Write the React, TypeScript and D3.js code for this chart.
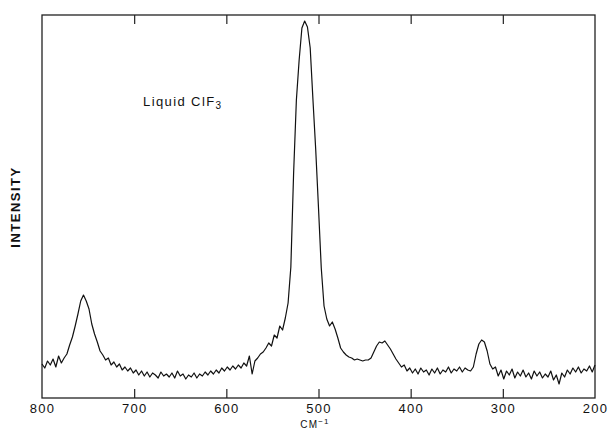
import React, { useRef, useEffect } from "react";
import * as d3 from "d3";

// wavenumber grid, 800 down to 200 cm-1 every 3 cm-1
const wavenumbers = d3.range(800, 199, -3);

// intensity (arbitrary units), one per wavenumber
const intensity = [
  34, 30, 37, 33, 39, 31, 42, 35, 40, 44,
  53, 61, 72, 84, 97, 103, 97, 89, 74, 64,
  56, 47, 43, 38, 40, 33, 36, 31, 34, 28,
  31, 27, 30, 25, 28, 23, 27, 22, 26, 21,
  25, 23, 20, 26, 22, 24, 21, 25, 20, 27,
  22, 24, 19, 23, 21, 25, 20, 24, 22, 26,
  23, 27, 24, 28, 25, 30, 27, 31, 28, 32,
  29, 33, 30, 35, 32, 42, 24, 37, 40, 44,
  46, 50, 55, 52, 63, 60, 72, 68, 80, 95,
  131, 225, 298, 338, 370, 377, 371, 350, 298, 248,
  190, 130, 92, 79, 72, 76, 69, 60, 50, 46,
  43, 41, 40, 38, 39, 38, 37, 38, 38, 40,
  46, 52, 56, 55, 57, 53, 49, 44, 39, 35,
  31, 33, 27, 30, 25, 29, 24, 30, 26, 28,
  23, 29, 25, 30, 24, 28, 26, 31, 25, 29,
  27, 31, 26, 30, 28, 27, 31, 44, 54, 58,
  56, 47, 34, 29, 31, 22, 28, 19, 27, 23,
  29, 20, 26, 22, 28, 21, 25, 19, 27, 22,
  26, 20, 24, 21, 27, 18, 23, 14, 25, 21,
  28, 24, 30, 26, 31, 25, 29, 27, 32, 26,
  33,
];

const xTicks = [800, 700, 600, 500, 400, 300, 200];
const innerTicks = [700, 600, 500, 400, 300];

const font = "'Liberation Sans', Arial, sans-serif";

function App() {
  const svgRef = useRef(null);

  useEffect(() => {
    const left = 42, right = 595, top = 15, bottom = 398;
    const svg = d3.select(svgRef.current);
    svg.selectAll("*").remove();

    const x = d3.scaleLinear().domain([800, 200]).range([left, right]);
    const y = d3.scaleLinear().domain([0, 383]).range([bottom, top]);

    const data = wavenumbers.map((w, i) => ({ w, v: intensity[i] }));

    // frame
    svg.append("rect")
      .attr("x", left).attr("y", top)
      .attr("width", right - left).attr("height", bottom - top)
      .attr("fill", "none").attr("stroke", "#222").attr("stroke-width", 1.3);

    // bottom axis with labels, ticks pointing in
    const gx = svg.append("g").attr("transform", `translate(0,${bottom})`)
      .call(d3.axisBottom(x).tickValues(xTicks).tickSizeInner(-9).tickSizeOuter(0).tickPadding(6));
    gx.select(".domain").remove();
    gx.selectAll(".tick line").filter((d) => innerTicks.indexOf(d) < 0).remove();
    gx.selectAll(".tick line").attr("stroke", "#222").attr("stroke-width", 1.2);
    gx.selectAll("text").attr("font-family", font).attr("font-size", 13)
      .attr("letter-spacing", 1.2).attr("fill", "#111");

    // top axis, ticks only
    const gt = svg.append("g").attr("transform", `translate(0,${top})`)
      .call(d3.axisTop(x).tickValues(innerTicks).tickSizeInner(-9).tickSizeOuter(0).tickFormat(() => ""));
    gt.select(".domain").remove();
    gt.selectAll(".tick line").attr("stroke", "#222").attr("stroke-width", 1.2);

    // spectrum trace
    const lineFunc = d3.line()
      .x((d) => x(d.w))
      .y((d) => y(d.v));
    svg.append("path")
      .datum(data)
      .attr("d", lineFunc)
      .attr("fill", "none")
      .attr("stroke", "#111")
      .attr("stroke-width", 1.2)
      .attr("stroke-linejoin", "round");

    // axis titles
    const xt = svg.append("text")
      .attr("x", 315).attr("y", 428)
      .attr("text-anchor", "middle")
      .attr("font-family", font).attr("font-size", 10)
      .attr("letter-spacing", 1.2).attr("fill", "#111");
    xt.append("tspan").text("CM");
    xt.append("tspan").attr("dy", -4).attr("font-size", 8).text("−1");

    svg.append("text")
      .attr("transform", "translate(20,207) rotate(-90)")
      .attr("text-anchor", "middle")
      .attr("font-family", font).attr("font-size", 13).attr("font-weight", "bold")
      .attr("letter-spacing", 1.5).attr("fill", "#111")
      .text("INTENSITY");

    const lbl = svg.append("text")
      .attr("x", 143).attr("y", 106)
      .attr("font-family", font).attr("font-size", 13)
      .attr("letter-spacing", 1.4).attr("fill", "#111");
    lbl.append("tspan").text("Liquid ClF");
    lbl.append("tspan").attr("dy", 3).attr("font-size", 10).text("3");
  }, []);

  return (
    <svg ref={svgRef} width={608} height={435}
      style={{ position: "absolute", left: 0, top: 0, background: "#fff" }} />
  );
}

export default App;
